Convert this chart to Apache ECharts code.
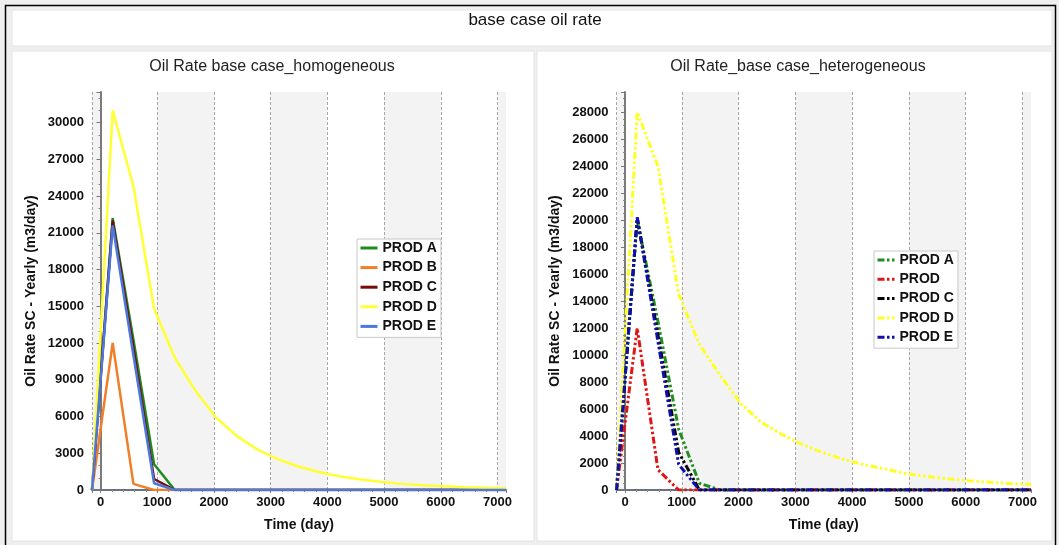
<!DOCTYPE html>
<html>
<head>
<meta charset="utf-8">
<script src="https://cdn.jsdelivr.net/npm/echarts@6/dist/echarts.min.js"></script>
<style>
html,body{margin:0;padding:0;background:#efefef;}
#c{width:1059px;height:545px;}
</style>
</head>
<body>
<div id="c"></div>
<script>
// ---------- data ----------
const mainTitle = 'base case oil rate';
const leftTitle = 'Oil Rate base case_homogeneous';
const rightTitle = 'Oil Rate_base case_heterogeneous';
const xName = 'Time (day)';
const yName = 'Oil Rate SC - Yearly (m3/day)';

const timeDays = [-150, 215, 580, 945, 1310, 1675, 2040, 2405, 2770, 3135, 3500,
                  3865, 4230, 4595, 4960, 5325, 5690, 6055, 6420, 6785, 7150];

const xTicks = [0, 1000, 2000, 3000, 4000, 5000, 6000, 7000];
const leftYTicks = [0, 3000, 6000, 9000, 12000, 15000, 18000, 21000, 24000, 27000, 30000];
const rightYTicks = [0, 2000, 4000, 6000, 8000, 10000, 12000, 14000, 16000, 18000, 20000, 22000, 24000, 26000, 28000];

const leftNames = ['PROD A', 'PROD B', 'PROD C', 'PROD D', 'PROD E'];
const rightNames = ['PROD A', 'PROD', 'PROD C', 'PROD D', 'PROD E'];

const homA = [0, 22200, 12300, 2100, 0, 0, 0, 0, 0, 0, 0, 0, 0, 0, 0, 0, 0, 0, 0, 0, 0];
const homB = [0, 12000, 500, 0, 0, 0, 0, 0, 0, 0, 0, 0, 0, 0, 0, 0, 0, 0, 0, 0, 0];
const homC = [0, 22000, 11600, 900, 0, 0, 0, 0, 0, 0, 0, 0, 0, 0, 0, 0, 0, 0, 0, 0, 0];
const homD = [0, 31000, 24800, 14800, 10800, 8100, 5900, 4400, 3300, 2500, 1900,
              1450, 1100, 850, 650, 500, 390, 300, 230, 180, 140];
const homE = [0, 21600, 11000, 550, 0, 0, 0, 0, 0, 0, 0, 0, 0, 0, 0, 0, 0, 0, 0, 0, 0];

const hetA = [0, 20000, 12500, 4500, 500, 0, 0, 0, 0, 0, 0, 0, 0, 0, 0, 0, 0, 0, 0, 0, 0];
const hetB = [0, 12000, 1500, 0, 0, 0, 0, 0, 0, 0, 0, 0, 0, 0, 0, 0, 0, 0, 0, 0, 0];
const hetC = [0, 20200, 11500, 2800, 0, 0, 0, 0, 0, 0, 0, 0, 0, 0, 0, 0, 0, 0, 0, 0, 0];
const hetD = [0, 28000, 24000, 14500, 10800, 8500, 6400, 5000, 4100, 3350, 2750,
              2250, 1850, 1550, 1200, 1000, 830, 690, 570, 480, 400];
const hetE = [0, 20200, 11000, 1900, 0, 0, 0, 0, 0, 0, 0, 0, 0, 0, 0, 0, 0, 0, 0, 0, 0];

const leftColors = ['#1f8a1f', '#f07f2a', '#7a0a0a', '#ffff33', '#4a78e0'];
const rightColors = ['#1f8f1f', '#e01515', '#000000', '#ffff22', '#0f0fb0'];

// ---------- build ----------
const F = "'Liberation Sans', Arial, sans-serif";
const pair = arr => timeDays.map((t, i) => [t, arr[i]]);

function xAxisCfg(g) {
  return {
    type: 'value', gridIndex: g, min: -150, max: 7150, splitNumber: 7,
    name: xName, nameLocation: 'middle', nameGap: 28,
    nameTextStyle: {fontWeight: 'bold', fontSize: 14, color: '#111', fontFamily: F},
    axisLine: {show: true, onZero: false, lineStyle: {color: '#6b7280', width: 2}},
    axisTick: {show: true, length: 3, lineStyle: {color: '#777'}},
    minorTick: {show: true, splitNumber: 5, length: 2, lineStyle: {color: '#888'}},
    axisLabel: {fontWeight: 'bold', fontSize: 13, color: '#111', margin: 6, fontFamily: F,
                showMinLabel: false, showMaxLabel: false,
                formatter: v => xTicks.includes(v) ? String(v) : ''},
    splitLine: {show: true, showMaxLine: false, lineStyle: {type: [3, 2], color: '#a6a6a6', width: 1}},
    splitArea: {show: true, areaStyle: {color: ['#f3f3f3', '#ffffff']}}
  };
}
function yAxisCfg(g, ticks, max, minorSplit) {
  return {
    type: 'value', gridIndex: g, min: ticks[0], max: max, interval: ticks[1] - ticks[0],
    name: yName, nameLocation: 'middle', nameGap: 54,
    nameTextStyle: {fontWeight: 'bold', fontSize: 14, color: '#111', fontFamily: F},
    axisLine: {show: true, lineStyle: {color: '#7a7a7a', width: 2}},
    axisTick: {show: true, length: 4, lineStyle: {color: '#777'}},
    minorTick: {show: true, splitNumber: minorSplit, length: 2, lineStyle: {color: '#888'}},
    axisLabel: {fontWeight: 'bold', fontSize: 13, color: '#111', margin: 8, fontFamily: F,
                showMaxLabel: false,
                formatter: v => ticks.includes(v) ? String(v) : ''},
    splitLine: {show: true, showMaxLine: false, lineStyle: {type: [3, 2], color: '#a6a6a6', width: 1}},
    splitArea: {show: false}
  };
}

const series = [];
const leftData = [homA, homB, homC, homD, homE];
leftNames.forEach((n, i) => series.push({
  type: 'line', name: n, xAxisIndex: 0, yAxisIndex: 0, data: pair(leftData[i]),
  symbol: 'none', animation: false, z: 3 + i,
  lineStyle: {width: 2.5, color: leftColors[i]}, itemStyle: {color: leftColors[i]}
}));
const rightData = [hetA, hetB, hetC, hetD, hetE];
rightNames.forEach((n, i) => series.push({
  type: 'line', name: n + ' ', xAxisIndex: 1, yAxisIndex: 1, data: pair(rightData[i]),
  symbol: 'none', animation: false, z: 3 + i,
  lineStyle: {width: 3, color: rightColors[i], type: [7, 2.5, 2.5, 2.5, 2.5, 2.5], cap: 'butt'},
  itemStyle: {color: rightColors[i]}
}));

function legendCfg(left, top, names, gap) {
  return {
    orient: 'vertical', left: left, top: top, itemWidth: 17, itemHeight: 14, itemGap: gap,
    padding: [2, 4, 4, 2], backgroundColor: '#ffffff', borderColor: '#c8c8c8', borderWidth: 1,
    selectedMode: false, data: names,
    lineStyle: {width: 3},
    itemStyle: {opacity: 0, color: 'transparent', borderWidth: 0},
    formatter: n => n.trim(),
    textStyle: {fontWeight: 'bold', fontSize: 14, color: '#111', fontFamily: F}
  };
}

const chart = echarts.init(document.getElementById('c'), null, {renderer: 'canvas'});
chart.setOption({
  backgroundColor: '#efefef',
  animation: false,
  textStyle: {fontFamily: F},
  graphic: [
    {type: 'rect', z: -10, shape: {x: 5.5, y: 5.5, width: 1050, height: 560},
     style: {fill: '#efefef', stroke: '#000', lineWidth: 1.5}},
    {type: 'rect', z: -9, shape: {x: 12, y: 10, width: 1040, height: 36},
     style: {fill: '#ffffff', stroke: '#e4e4e4', lineWidth: 1}},
    {type: 'rect', z: -9, shape: {x: 12, y: 51, width: 522, height: 490},
     style: {fill: '#ffffff', stroke: '#e4e4e4', lineWidth: 1}},
    {type: 'rect', z: -9, shape: {x: 537, y: 51, width: 515, height: 490},
     style: {fill: '#ffffff', stroke: '#e4e4e4', lineWidth: 1}},
    {type: 'text', z: 10, style: {text: mainTitle, x: 535, y: 20, textAlign: 'center', textVerticalAlign: 'middle',
      font: '17px ' + F, fill: '#111'}},
    {type: 'text', z: 10, style: {text: leftTitle, x: 272, y: 67, textAlign: 'center', textVerticalAlign: 'middle',
      font: '16px ' + F, fill: '#222'}},
    {type: 'text', z: 10, style: {text: rightTitle, x: 798, y: 67, textAlign: 'center', textVerticalAlign: 'middle',
      font: '16px ' + F, fill: '#222'}}
  ],
  grid: [
    {left: 92, top: 92, width: 414, height: 398},
    {left: 616.5, top: 92, width: 414.5, height: 398}
  ],
  xAxis: [xAxisCfg(0), xAxisCfg(1)],
  yAxis: [yAxisCfg(0, leftYTicks, 32500, 3), yAxisCfg(1, rightYTicks, 29500, 4)],
  legend: [
    legendCfg(357, 239, leftNames, 5.6),
    legendCfg(874, 251, rightNames.map(n => n + ' '), 5.3)
  ],
  series: series
});
</script>
</body>
</html>
